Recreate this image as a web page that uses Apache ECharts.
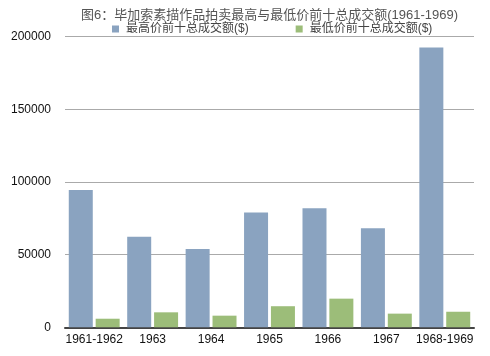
<!DOCTYPE html>
<html><head><meta charset="utf-8">
<script src="https://cdn.jsdelivr.net/npm/echarts@6/dist/echarts.min.js"></script>
<style>html,body{margin:0;padding:0;background:#fff}#c{width:490px;height:356px}</style>
</head><body><div id="c"></div>
<script>
const categories = ['1961-1962','1963','1964','1965','1966','1967','1968-1969'];
const highTop10 = [94500, 62200, 53900, 78900, 81900, 68200, 192500];
const lowTop10 = [5900, 10300, 8000, 14500, 19700, 9400, 10700];
const yTicks = [0, 50000, 100000, 150000, 200000];
const seriesNames = ['最高价前十总成交额($)', '最低价前十总成交额($)'];
const titleText = '图6：毕加索素描作品拍卖最高与最低价前十总成交额(1961-1969)';

const FONT = '"Liberation Sans", "Noto Sans CJK SC", sans-serif';
const chart = echarts.init(document.getElementById('c'));
chart.setOption({
  animation: false,
  backgroundColor: '#fff',
  title: {
    text: titleText, left: 76, top: 4,
    textStyle: { fontFamily: FONT, fontSize: 13, fontWeight: 'normal', color: '#555' }
  },
  legend: {
    top: 18, left: 107, itemWidth: 7, itemHeight: 7, itemGap: 47,
    icon: 'rect',
    textStyle: { fontFamily: FONT, fontSize: 12, color: '#444', padding: [0,0,0,2] },
    data: seriesNames
  },
  grid: { left: 65, right: 16, top: 36.5, bottom: 28.7, containLabel: false },
  xAxis: {
    type: 'category', data: categories,
    axisLine: { lineStyle: { color: '#444', width: 2 } },
    axisTick: { show: false },
    axisLabel: { fontFamily: FONT, fontSize: 12, color: '#111', margin: 6, interval: 0 }
  },
  yAxis: {
    type: 'value', min: yTicks[0], max: yTicks[yTicks.length-1], interval: yTicks[1]-yTicks[0],
    axisLine: { show: false }, axisTick: { show: false },
    axisLabel: { fontFamily: FONT, fontSize: 12, color: '#111', margin: 14, formatter: v => String(v) },
    splitLine: { lineStyle: { color: '#aaa', width: 1 } }
  },
  series: [
    { name: seriesNames[0], type: 'bar', data: highTop10, barWidth: 24, barGap: '12%',
      itemStyle: { color: '#8aa3c0' } },
    { name: seriesNames[1], type: 'bar', data: lowTop10, barWidth: 24,
      itemStyle: { color: '#9cbd79' } }
  ]
});
</script></body></html>
